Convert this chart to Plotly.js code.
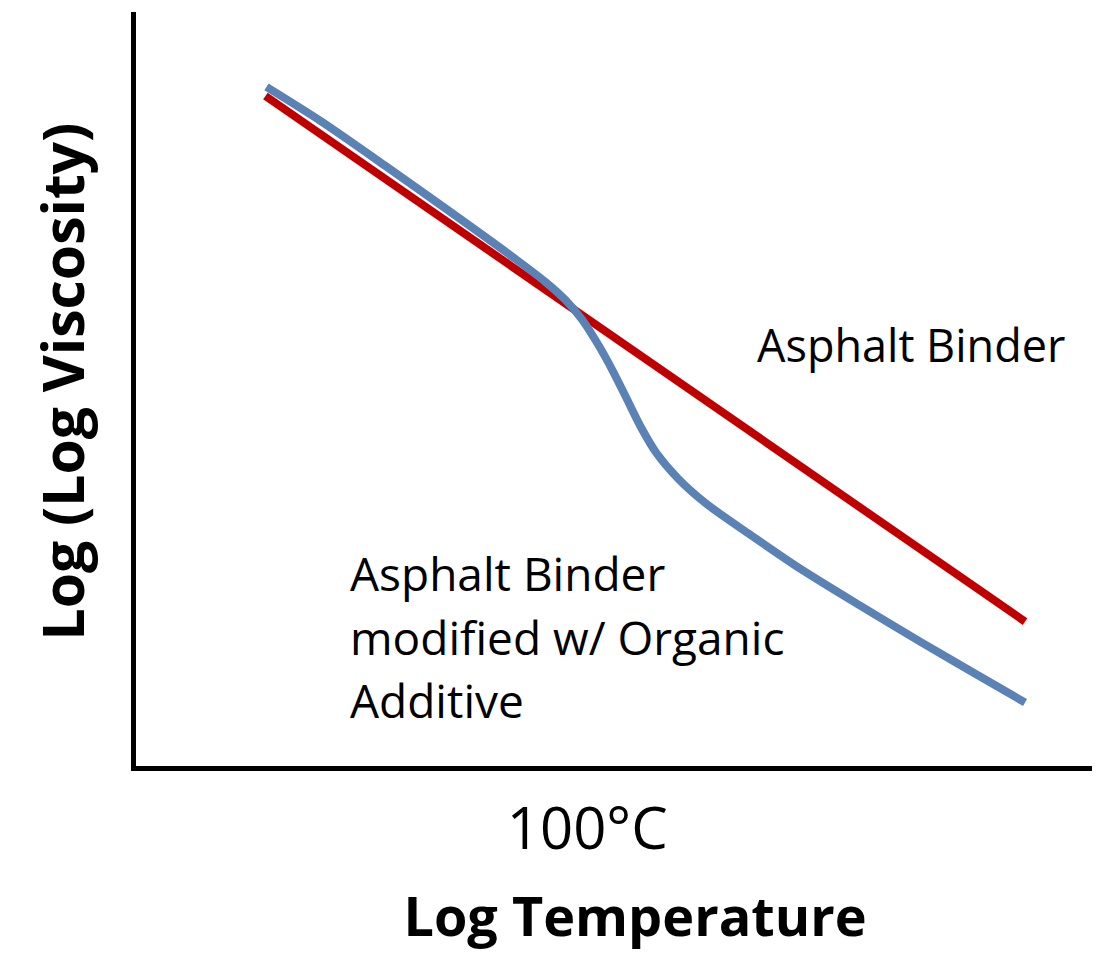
<!DOCTYPE html>
<html>
<head>
<meta charset="utf-8">
<script src="https://cdn.plot.ly/plotly-3.0.1.min.js"></script>
<style>html,body{margin:0;padding:0;background:#fff;}#chart{width:1104px;height:957px;}</style>
</head>
<body>
<div id="chart"></div>
<script>
// Arbitrary units (no numeric scale in the original)
const binderX = [132, 892];
const binderY = [673, 147];
const modifiedX = [133, 187, 252, 317, 382, 412, 432, 449, 465, 480, 494, 508, 523, 545, 573, 617, 667, 727, 787, 847, 892];
const modifiedY = [682, 648, 603, 557, 510, 487, 469, 449, 424, 397, 369, 341, 316, 290, 265, 234, 200, 163, 127, 92, 66];
const tickVals = [454];
const tickText = ["100°C"];

const FONT = "'Open Sans', 'Noto Sans', sans-serif";

const data = [
  {x: binderX, y: binderY, type: 'scatter', mode: 'lines', name: 'Asphalt Binder',
   line: {color: '#C00000', width: 8}, hoverinfo: 'skip'},
  {x: modifiedX, y: modifiedY, type: 'scatter', mode: 'lines', name: 'Asphalt Binder modified w/ Organic Additive',
   line: {color: '#5B82B5', width: 8, shape: 'spline', smoothing: 0.8}, hoverinfo: 'skip'}
];

const layout = {
  width: 1104, height: 957,
  margin: {l: 135.5, r: 12, t: 12, b: 190.5},
  paper_bgcolor: '#fff', plot_bgcolor: '#fff',
  showlegend: false,
  font: {family: FONT, color: '#000'},
  xaxis: {
    range: [2.5, 959], showgrid: false, zeroline: false,
    showline: true, linecolor: '#000', linewidth: 5,
    tickmode: 'array', tickvals: tickVals, ticktext: tickText, ticks: '',
    tickfont: {size: 58, family: FONT, color: '#000'},
    ticklabelstandoff: 8,
    title: {text: '&nbsp;&nbsp;&nbsp;<b>Log Temperature</b>', font: {size: 54, family: FONT, color: '#000'}, standoff: 35},
    fixedrange: true
  },
  yaxis: {
    range: [2.5, 757], showgrid: false, zeroline: false,
    showline: true, linecolor: '#000', linewidth: 5,
    showticklabels: false, ticks: '',
    title: {text: '&nbsp;<b>Log (Log Viscosity)</b>', font: {size: 57, family: FONT, color: '#000'}, standoff: 30},
    fixedrange: true
  },
  annotations: [
    {x: 622, y: 424, xref: 'x', yref: 'y', text: 'Asphalt Binder', showarrow: false,
     xanchor: 'left', yanchor: 'middle', font: {size: 45, family: FONT, color: '#000'}},
    {x: 215, y: 196, xref: 'x', yref: 'y', text: 'Asphalt Binder', showarrow: false,
     xanchor: 'left', yanchor: 'middle', font: {size: 46, family: FONT, color: '#000'}},
    {x: 215, y: 132, xref: 'x', yref: 'y', text: 'modified w/ Organic', showarrow: false,
     xanchor: 'left', yanchor: 'middle', font: {size: 46, family: FONT, color: '#000'}},
    {x: 215, y: 69, xref: 'x', yref: 'y', text: 'Additive', showarrow: false,
     xanchor: 'left', yanchor: 'middle', font: {size: 46, family: FONT, color: '#000'}}
  ]
};

Plotly.newPlot('chart', data, layout, {displayModeBar: false, staticPlot: true});
</script>
</body>
</html>
